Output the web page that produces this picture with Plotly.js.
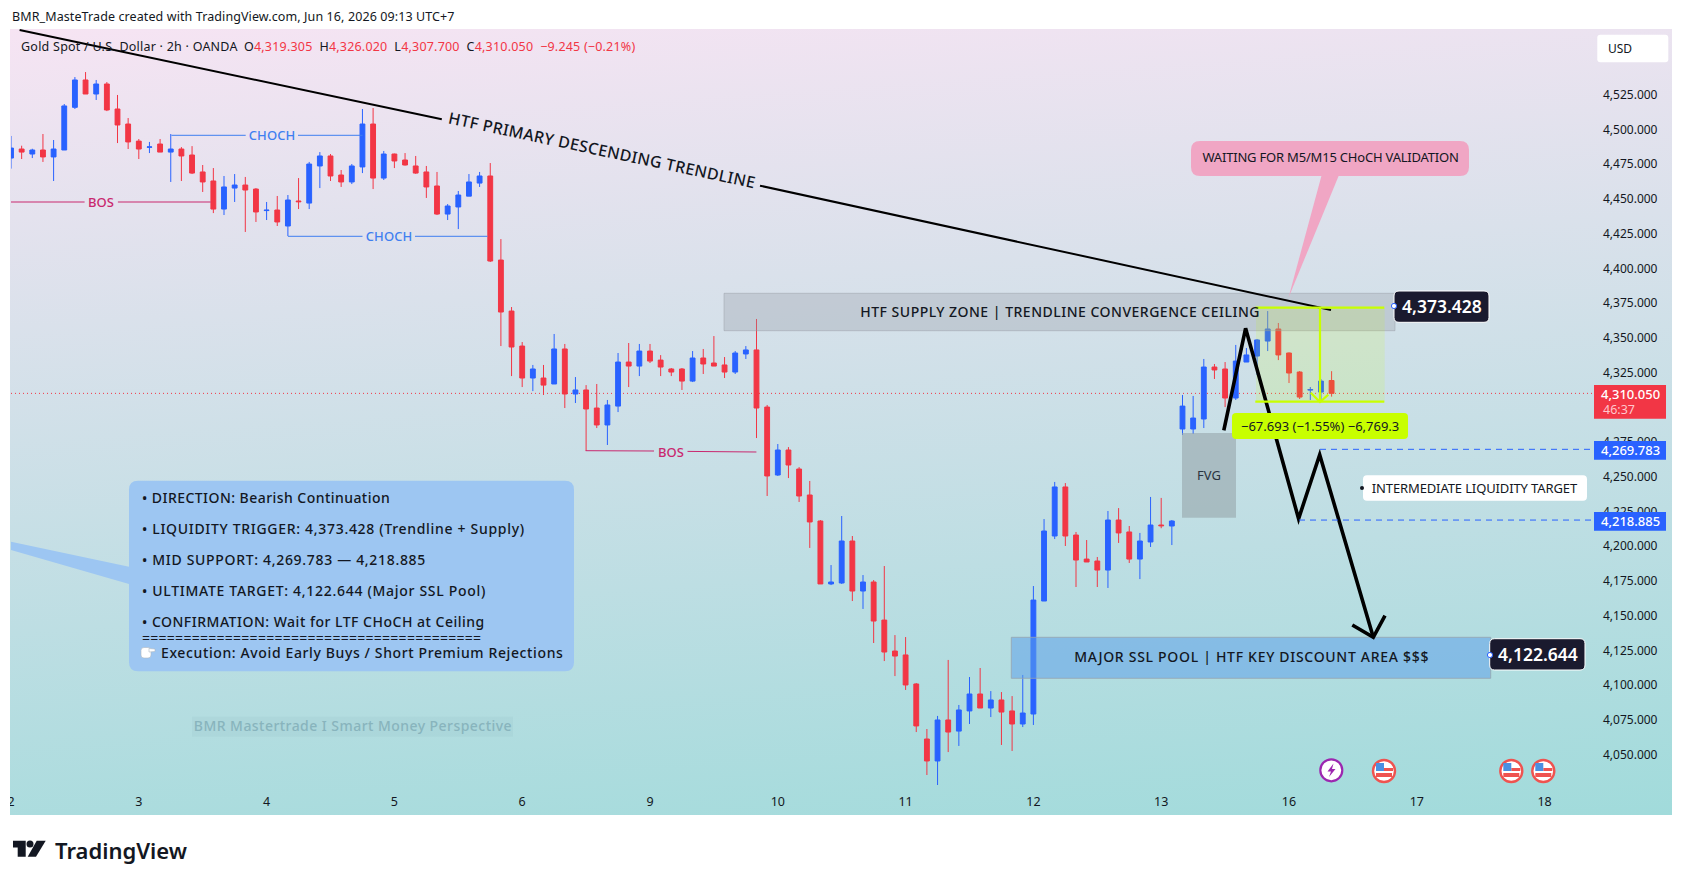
<!DOCTYPE html>
<html><head><meta charset="utf-8">
<script src="https://cdn.plot.ly/plotly-3.0.1.min.js"></script>
<style>
html,body{margin:0;padding:0;background:#fff;width:1683px;height:882px;overflow:hidden}
#pane{position:absolute;left:10px;top:29px;width:1662px;height:786px;background:linear-gradient(176deg,#f6e4f3 0%,#a1dbdb 100%)}
#chart{position:absolute;left:0;top:0;width:1683px;height:882px}
</style></head><body>
<div id="pane"></div><div id="chart"></div>
<script>
// ---- data ----
const dayLabels=["2","3","4","5","6","9","10","11","12","13","16","17","18"];
const dayTickIndex=[0,12,24,36,48,60,72,84,96,108,120,132,144];
const opens=[4479.4,4485.9,4482.3,4485.2,4480.2,4485.2,4515.9,4535.6,4525.5,4532.7,4514.7,4503.9,4491.6,4487.2,4489.5,4483.7,4485.9,4481.6,4469.4,4462.9,4442.7,4457.8,4460,4457.1,4441.6,4442,4430.5,4448.5,4447,4473.7,4480.9,4467.2,4462.2,4473,4503.9,4465,4482.3,4478,4473.7,4469.4,4459.3,4439.1,4444.2,4452,4461.4,4466.5,4406,4369.3,4344.1,4321.1,4321.1,4316.8,4342,4309.6,4312.5,4299.5,4287.3,4300.9,4332.6,4329.7,4340.5,4334,4327.6,4327.6,4318.9,4335.5,4331.9,4330.5,4325.4,4338.4,4341.3,4300.2,4251.3,4269.3,4255.6,4236.9,4218.2,4172.9,4173.6,4203.8,4167.8,4174.3,4146.9,4124.6,4121.8,4100.9,4061.3,4045.5,4075,4067,4081.5,4093.7,4083.6,4089.4,4081.5,4072.1,4079.3,4160.6,4207.4,4242.7,4208.1,4190.8,4189.4,4182.9,4218.9,4210.3,4190.8,4203.1,4215.3,4214.6,4284.4,4284.4,4291.6,4329,4327.6,4306.7,4332.6,4336.9,4347.7,4356.4,4339.1,4325.4,4312.4,4311,4319.305];
const highs=[4495.3,4488.3,4486.1,4496.7,4492.4,4518.3,4537.7,4541.3,4535.6,4534.1,4524.8,4508.2,4493.1,4491,4493.1,4496.7,4487.3,4488,4474.4,4472.2,4466.5,4467.9,4465.8,4457.8,4447.8,4452.1,4452.8,4465,4476.6,4483.7,4482.3,4470.8,4475.1,4514.7,4515.4,4484.5,4482.6,4483,4480.9,4473.7,4469.4,4446.3,4455.7,4467.9,4469.4,4475.8,4421.1,4372.2,4347,4330.5,4330.5,4352.8,4345.6,4321.8,4316,4316.8,4305.3,4339.1,4346.3,4345.6,4345.6,4337.6,4328.3,4328.3,4340.5,4342,4351.3,4336.2,4340.5,4344.1,4363.6,4301.7,4273.6,4271.4,4257,4247,4218.9,4186.5,4221.8,4207.4,4179.3,4175.7,4185.8,4136.1,4134.7,4101.6,4068.5,4077.9,4118.2,4085.8,4105.9,4112.4,4095.8,4095.1,4092.2,4107.4,4171.4,4219.6,4246.3,4245.5,4210.3,4204.5,4192.3,4225.4,4227.5,4214.6,4209.6,4235.5,4234.8,4218.9,4308.9,4308.2,4334.8,4331.2,4332.6,4344.9,4342.7,4349.2,4369.3,4360.7,4339.5,4326.1,4314.6,4320.4,4326.02];
const lows=[4471.8,4478.7,4479.4,4476.6,4462.9,4485.2,4514.7,4525.5,4521.2,4513.2,4490.2,4485.9,4478.7,4483,4483.7,4462.2,4462.9,4467.9,4455,4439.8,4438.4,4447.8,4426.2,4433.4,4434.8,4430.5,4423.3,4442.7,4442.7,4457.8,4462.9,4458.6,4460.7,4468.6,4457.1,4463.6,4472.2,4474,4468,4450.7,4438.4,4434.8,4428.3,4452,4458.6,4404.6,4344.1,4322.5,4314.6,4311.7,4308.9,4316.8,4299.5,4303.1,4268.6,4285.1,4272.9,4296.6,4314.6,4322.5,4331.9,4322.5,4322.5,4312.5,4318.2,4324,4329.7,4321.1,4324,4334.8,4277.9,4236.2,4250.6,4249.1,4231.9,4198.8,4172.9,4172.1,4172.9,4160.6,4154.9,4130.4,4117.4,4106.6,4096.6,4066.3,4035.4,4028.2,4051.9,4056.3,4072.1,4083.6,4077.1,4057,4052.7,4069.9,4071.4,4160.6,4205.2,4200.2,4170.7,4188.7,4170.7,4170,4202.4,4188,4176.4,4199.5,4213,4200.9,4280.1,4280.8,4285.1,4320.4,4300.2,4305.3,4332.6,4323.3,4340.5,4334,4317.5,4306,4305.3,4303.8,4307.7];
const closes=[4486.6,4483.7,4485.2,4480.2,4485.9,4516.9,4535.6,4525.5,4532.7,4514,4503.2,4491,4485.9,4487.4,4483.7,4485.9,4480.9,4468.6,4462.2,4442.7,4458.6,4460,4456.4,4440.6,4441.9,4433.4,4449.2,4448,4475.1,4480.9,4466.5,4462.2,4473.7,4503.9,4465,4482.3,4477.3,4474.4,4468.6,4458.6,4439.1,4444.9,4452.8,4462.2,4466.5,4405.3,4368.6,4343.4,4321.1,4327.6,4316,4342,4309.6,4312.5,4298.8,4287.3,4301.7,4332.6,4329.7,4340.5,4333.3,4329,4325.4,4318.9,4335.5,4331.2,4329.7,4325.4,4339.1,4341.3,4299.5,4250.6,4269.3,4258.5,4236.2,4217.5,4172.9,4174.3,4203.8,4167.8,4174.3,4146.2,4123.9,4121,4100.2,4070.7,4045.5,4075,4066.3,4082.2,4093.7,4083.6,4089.4,4080.7,4072.1,4080,4161.3,4211,4242.7,4207.4,4190.1,4188.7,4182.9,4218.9,4209.6,4190.8,4203.8,4215.3,4214.8,4218.2,4300.9,4292.3,4329,4326.9,4306.7,4333.3,4337.7,4348.5,4356.4,4337.7,4324.7,4307.4,4312.8,4318.9,4310.05];
const priceTicks=[4050,4075,4100,4125,4150,4175,4200,4225,4250,4275,4325,4350,4375,4400,4425,4450,4475,4500,4525];
const lastPrice=4310.05, midHigh=4269.783, midLow=4218.885;

// ---- layout helpers (screen position to paper fraction) ----
const W=1683,H=882,L=11,R=1594,T=29,B=787;
const FONT='"Noto Sans","DejaVu Sans",sans-serif';
const xp=x=>(x-L)/(R-L), yp=y=>(B-y)/(B-T);
const BLUE='#2962ff',RED='#f23645',INK='#131722',LIME='#c8ff00';
const shapes=[],notes=[],spacing=[];
const pts=a=>a.map((p,i)=>(i?'L':'M')+xp(p[0]).toFixed(5)+','+yp(p[1]).toFixed(5)).join(' ');
function poly(a,fill,lineCol,lw,closed,layer){shapes.push({type:'path',xref:'paper',yref:'paper',layer:layer||'above',path:pts(a)+(closed?' Z':''),fillcolor:fill||'rgba(0,0,0,0)',line:{color:lineCol||'rgba(0,0,0,0)',width:lw||0}});}
function seg(x0,y0,x1,y1,c,w,dash){shapes.push({type:'line',xref:'paper',yref:'paper',layer:'above',x0:xp(x0),y0:yp(y0),x1:xp(x1),y1:yp(y1),line:{color:c,width:w,dash:dash||'solid'}});}
function rect(x0,y0,x1,y1,f,c,w,layer){shapes.push({type:'rect',xref:'paper',yref:'paper',layer:layer||'above',x0:xp(x0),y0:yp(y0),x1:xp(x1),y1:yp(y1),fillcolor:f,line:{color:c||'rgba(0,0,0,0)',width:w||0}});}
function rr(x0,y0,x1,y1,r,f,c,w){const q=(x,y)=>xp(x).toFixed(5)+','+yp(y).toFixed(5);
 shapes.push({type:'path',xref:'paper',yref:'paper',layer:'above',fillcolor:f,line:{color:c||'rgba(0,0,0,0)',width:w||0},
 path:`M${q(x0+r,y0)} L${q(x1-r,y0)} Q${q(x1,y0)} ${q(x1,y0+r)} L${q(x1,y1-r)} Q${q(x1,y1)} ${q(x1-r,y1)} L${q(x0+r,y1)} Q${q(x0,y1)} ${q(x0,y1-r)} L${q(x0,y0+r)} Q${q(x0,y0)} ${q(x0+r,y0)} Z`});}
function circ(cx,cy,r,f,c,w){shapes.push({type:'circle',xref:'paper',yref:'paper',layer:'above',x0:xp(cx-r),x1:xp(cx+r),y0:yp(cy+r),y1:yp(cy-r),fillcolor:f,line:{color:c||'rgba(0,0,0,0)',width:w||0}});}
function txt(s,x,y,size,color,anchor,extra,ls,weight){const a=anchor||'center';
 notes.push(Object.assign({text:s,xref:'paper',yref:'paper',x:xp(x),y:yp(y),xanchor:a,align:a,yanchor:'middle',showarrow:false,font:{family:FONT,size:size,color:color||INK,weight:weight||400},borderpad:0,captureevents:false},extra||{}));
 spacing.push(ls||0);}

// price-level lines
shapes.push({type:'line',xref:'paper',yref:'y',layer:'below',x0:0,x1:1,y0:lastPrice,y1:lastPrice,line:{color:RED,width:1,dash:'1px,3px'}});

// info callout
poly([[11,541.7],[129,566.7],[129,584],[11,550]],'#9dc6f2',null,0,true);
rr(129,480.7,574,671.3,9,'#9dc6f2');
// white pointing hand behind its glyph
rr(141,647.5,151,658,3,'#ffffff','#aeb8c2',0.6);
poly([[149,648.5],[155,649],[155,651.5],[149,652]],'#ffffff','#aeb8c2',0.6,true);
// supply zone, measured box, FVG, SSL pool
rect(724,293.3,1395,330.7,'rgba(150,155,165,0.32)','rgba(150,155,165,0.45)',1);
rect(1011.3,637.3,1490.7,678.3,'rgba(95,160,232,0.54)','rgba(150,165,175,0.8)',1);
rect(1256,308,1384.7,402,'rgba(200,255,0,0.13)');
rect(1182,433,1236,517.7,'rgba(150,165,170,0.6)');
// trendline
seg(19.6,30,441.8,119.3,'#000',2);
seg(760,185.7,1331,310,'#000',2);
// structure lines
const chochC='#3f7ff0',bosC='#c9286f';
seg(171.4,135.3,245.7,135.3,chochC,1);seg(298,135.3,362.5,135.3,chochC,1);
seg(287.9,236.3,362.5,236.3,chochC,1);seg(415,236.3,487.5,236.3,chochC,1);
seg(11,202,84.6,202,bosC,1);seg(117.9,202,210.7,202,bosC,1);
seg(585.7,450.7,654,451,bosC,1);seg(687.5,451.4,756.4,452,bosC,1);
// black projected path
poly([[1223.8,430.3],[1245.6,328.3],[1298.6,518.7],[1319.7,454.7],[1373.3,637.3]],null,'#000',3.6);
poly([[1352.3,625],[1373.3,637.3],[1385,615.7]],null,'#000',3.6);
// measured range lines
seg(1255.3,307.7,1384.3,307.7,LIME,2.2);seg(1255.3,401.7,1384.3,401.7,LIME,2.2);
seg(1320,307.7,1320,401,LIME,2.2);
poly([[1310.7,392.7],[1320,402],[1328.3,394.7]],null,LIME,2.2);
rr(1232,413,1408,439,4,LIME);
// dashed targets
shapes.push({type:'line',xref:'paper',yref:'y',layer:'above',x0:xp(1320),x1:1,y0:midHigh,y1:midHigh,line:{color:BLUE,width:1,dash:'6px,5px'}});
shapes.push({type:'line',xref:'paper',yref:'y',layer:'above',x0:xp(1299),x1:1,y0:midLow,y1:midLow,line:{color:BLUE,width:1,dash:'6px,5px'}});
// waiting callout
poly([[1321.7,175],[1339,175],[1288.3,298.3]],'#f0a6c4',null,0,true);
rr(1191,141,1469,176,9,'#f0a6c4');
// price tags
rr(1394,291,1489,322.3,5,'#1a1a2e','#ffffff',1);
circ(1394,306,2.6,'#fff',BLUE,1);
rr(1489.7,638.7,1585,670,5,'#1a1a2e','#ffffff',1);
circ(1490,655,2.6,'#fff',BLUE,1);
rr(1363,475.3,1587,500.7,4,'#ffffff');
circ(1362,488,2,'#131722');
rect(1594,385,1666,418.7,RED);
rect(1594,441,1666,459.7,BLUE);
rect(1594,512,1666,530.7,BLUE);
rr(1597.3,34.7,1668.3,62.3,3,'#ffffff');
rect(192,716.7,513,736.7,'rgba(140,185,195,0.16)');
// event icons
circ(1331.3,770.3,11,'#ffffff','#9c27b0',2.2);
poly([[1333.5,763.5],[1327.5,771.5],[1331,771.5],[1329,777],[1335.5,769],[1332,769]],'#9c27b0',null,0,true);
[[1384,771],[1511.3,771],[1543.3,771]].forEach(c=>{
 circ(c[0],c[1],11,'#ffffff','#ef5350',2.4);
 rect(c[0]-8,c[1]+2,c[0]+8,c[1]+6,'#ef5350');
 rect(c[0],c[1]-3,c[0]+9,c[1],'#ef5350');
 rect(c[0]-8,c[1]-8,c[0],c[1],'#4a90e2');
});
// hide half tick label left of pane
rect(0,790,10,812,'#ffffff');
// TradingView logo
poly([[13,840.7],[25.7,840.7],[25.7,856.7],[17.7,856.7],[17.7,847.5],[13,847.5]],'#131722',null,0,true);
circ(30,844,3.5,'#131722');
poly([[36.7,840.7],[45.7,840.7],[36,856.7],[27.7,856.7]],'#131722',null,0,true);

// texts
txt('BMR_MasteTrade created with TradingView.com, Jun 16, 2026 09:13 UTC+7',11,16.7,12.5,INK,'left',null,0.1);
const r=s=>`<span style="color:${RED}">${s}</span>`;
txt('Gold Spot / U.S. Dollar · 2h · OANDA',19.5,46.7,12.5,INK,'left',null,0.24);
txt('O'+r('4,319.305')+'  H'+r('4,326.020')+'  L'+r('4,307.700')+'  C'+r('4,310.050')+'  '+r('−9.245 (−0.21%)'),243,46.7,12.5,INK,'left',null,0.2);
txt('HTF PRIMARY DESCENDING TRENDLINE',602,150,16,INK,'center',{textangle:12},0.35,500);
txt('CHOCH',271.8,135.3,13,chochC,null,null,0.1,500);txt('CHOCH',388.7,236.3,13,chochC,null,null,0.1,500);
txt('BOS',101.3,202,13,bosC,null,null,0,500);txt('BOS',670.7,451.5,13,bosC,null,null,0,500);
txt('HTF SUPPLY ZONE | TRENDLINE CONVERGENCE CEILING',1060,311.5,14,INK,null,null,0.5,500);
txt('MAJOR SSL POOL | HTF KEY DISCOUNT AREA $$$',1251,656.5,14,INK,null,null,0.7,500);
txt('FVG',1209,475,13,'#2a3440');
txt('4,373.428',1442,306,17.5,'#ffffff',null,null,0,600);
txt('4,122.644',1537.5,654,17.5,'#ffffff',null,null,0,600);
txt('INTERMEDIATE LIQUIDITY TARGET',1475,488,13,INK,null,null,-0.12);
txt('−67.693 (−1.55%) −6,769.3',1320,426,13,INK);
txt('WAITING FOR M5/M15 CHoCH VALIDATION',1330.5,156.7,13,INK,null,null,-0.2);
txt('USD',1607,48.7,12,INK,'left');
txt('4,310.050',1630,394,13,'#ffffff',null,null,0,500);
txt('46:37',1619,409,12.5,'#ffc6cc');
txt('4,269.783',1630,450.3,13,'#ffffff',null,null,0,500);
txt('4,218.885',1630,521.3,13,'#ffffff',null,null,0,500);
const infoX=141;
txt('• DIRECTION: Bearish Continuation',infoX,497.7,14,INK,'left',null,0.45,500);
txt('• LIQUIDITY TRIGGER: 4,373.428 (Trendline + Supply)',infoX,528.7,14,INK,'left',null,0.69,500);
txt('• MID SUPPORT: 4,269.783 — 4,218.885',infoX,559.7,14,INK,'left',null,0.68,500);
txt('• ULTIMATE TARGET: 4,122.644 (Major SSL Pool)',infoX,590.7,14,INK,'left',null,0.7,500);
txt('• CONFIRMATION: Wait for LTF CHoCH at Ceiling',infoX,621.7,14,INK,'left',null,0.5,500);
txt('=========================================',infoX,637.7,14,INK,'left',null,0.27);
txt('Execution: Avoid Early Buys / Short Premium Rejections',160,652,14,INK,'left',null,0.62,500);
txt('BMR Mastertrade I Smart Money Perspective',352.5,725,14,'#88b4bd',null,null,0.45,500);
txt('TradingView',54,850,22,'#131722','left',null,0,600);

const indices=opens.map((_,i)=>i);
const trace={type:'candlestick',x:indices,open:opens,high:highs,low:lows,close:closes,
 increasing:{line:{color:BLUE,width:1},fillcolor:BLUE},decreasing:{line:{color:RED,width:1},fillcolor:RED},
 hoverinfo:'skip',showlegend:false};
const layout={width:W,height:H,autosize:false,paper_bgcolor:'rgba(0,0,0,0)',plot_bgcolor:'rgba(0,0,0,0)',
 margin:{l:L,r:W-R,t:T,b:H-B,pad:0},showlegend:false,boxgap:0.35,dragmode:false,
 xaxis:{type:'linear',range:[0,(R-L)/10.65],rangeslider:{visible:false},showgrid:false,zeroline:false,showline:false,ticks:'',
  tickmode:'array',tickvals:dayTickIndex,ticktext:dayLabels,ticklabelstandoff:5,tickfont:{family:FONT,size:12.5,color:INK}},
 yaxis:{side:'right',range:[4525-(B-94.7)/1.3895,4525+(94.7-T)/1.3895],showgrid:false,zeroline:false,showline:false,ticks:'',
  tickmode:'array',tickvals:priceTicks,ticktext:priceTicks.map(v=>v.toLocaleString('en-US',{minimumFractionDigits:3})),ticklabelstandoff:8,tickfont:{family:FONT,size:12,color:INK}},
 shapes:shapes,annotations:notes};
Plotly.newPlot('chart',[trace],layout,{staticPlot:true,displayModeBar:false}).then(()=>{
 document.querySelectorAll('.annotation').forEach(g=>{
  const i=+g.getAttribute('data-index');
  const t=g.querySelector('.annotation-text');
  if(t&&spacing[i]) t.style.letterSpacing=spacing[i]+'px';
 });
});
</script></body></html>
